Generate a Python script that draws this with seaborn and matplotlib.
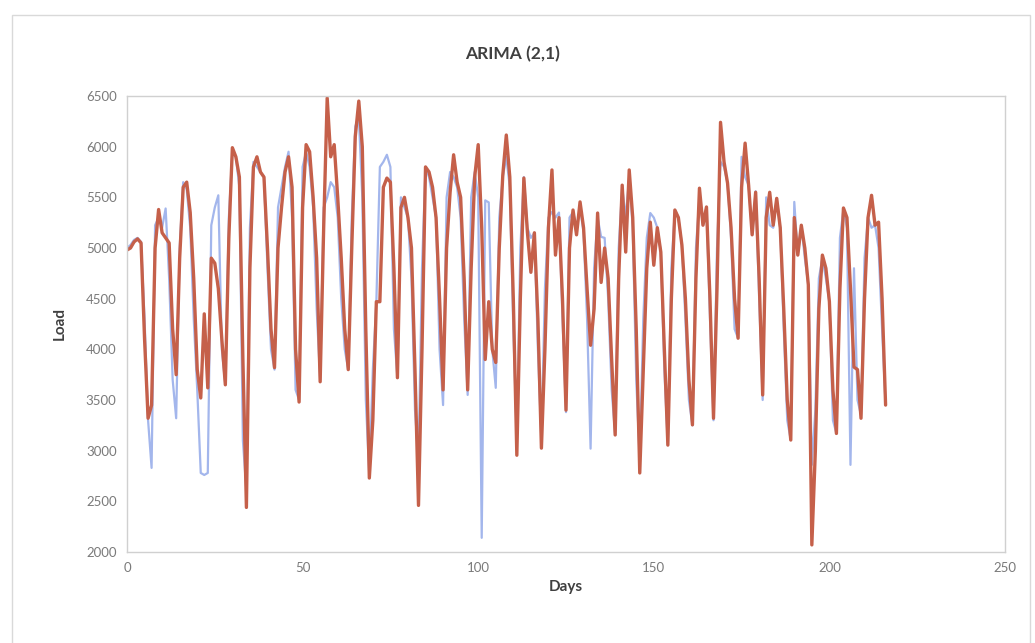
import numpy as np
import pandas as pd
import matplotlib
matplotlib.use("Agg")
import matplotlib.pyplot as plt
import seaborn as sns
from matplotlib.patches import Rectangle

# values (one per day, days 0..216)
actual = [
    5000, 5030, 5080, 5100, 5060, 4300, 3300,
    2830, 5225, 5300, 5200, 5390, 4700, 3700,
    3320, 5000, 5650, 5580, 5200, 4300, 3600,
    2780, 2760, 2780, 5225, 5400, 5520, 4000,
    3650, 5300, 5950, 5900, 5600, 3100, 2600,
    5200, 5850, 5800, 5750, 5700, 4800, 4000,
    3800, 5400, 5600, 5800, 5950, 5300, 3600,
    3500, 5800, 5950, 5800, 5400, 4400, 3700,
    5400, 5500, 5650, 5600, 5300, 4500, 4000,
    3800, 5300, 6200, 6300, 5500, 3500, 2750,
    3800, 4470, 5800, 5850, 5920, 5800, 4200,
    3720, 5500, 5400, 5300, 4700, 3400, 2900,
    4800, 5800, 5700, 5500, 5300, 4000, 3450,
    5500, 5750, 5700, 5600, 5300, 4300, 3550,
    5500, 5750, 5500, 2140, 5470, 5450, 4000,
    3620, 5300, 5700, 5900, 5600, 4200, 3100,
    5000, 5700, 5200, 5100, 5150, 4000, 3100,
    4600, 5300, 5355, 5300, 5350, 4300, 3380,
    5300, 5355, 5200, 5400, 5150, 4300, 3020,
    4800, 5300, 5110, 5100, 4500, 3600, 3155,
    5000, 5600, 5300, 5700, 5200, 3700, 2900,
    4300, 5100, 5345, 5300, 5200, 4960, 3800,
    3055, 4800, 5375, 5300, 5030, 4300, 3500,
    3250, 5000, 5500, 5225, 5405, 4300, 3300,
    5000, 5850, 5800, 5640, 5100, 4200, 4110,
    5900, 5700, 5620, 5130, 5560, 4500, 3500,
    5500, 5225, 5200, 5490, 5195, 4200, 3300,
    3105, 5455, 4930, 5225, 4900, 4635, 2860,
    3400, 4700, 4900, 4700, 4470, 3300, 3170,
    5100, 5380, 5200, 2860, 4800, 3500, 3350,
    4900, 5300, 5200, 5225, 5000, 4200, 3450,
]

forecast = [
    4980, 5000, 5060, 5090, 5050, 4100, 3320,
    3450, 5000, 5380, 5150, 5100, 5050, 4200,
    3750, 4900, 5600, 5650, 5350, 4700, 3800,
    3520, 4350, 3620, 4900, 4850, 4600, 4100,
    3650, 5100, 5990, 5900, 5700, 3900, 2440,
    4800, 5800, 5900, 5750, 5700, 5000, 4200,
    3820, 5000, 5400, 5750, 5900, 5600, 4000,
    3480, 5400, 6020, 5950, 5500, 4900, 3680,
    5200, 6480, 5900, 6020, 5500, 4900, 4200,
    3800, 5000, 6100, 6450, 6000, 4200, 2730,
    3300, 4470, 4470, 5600, 5690, 5650, 4800,
    3720, 5400, 5500, 5300, 5000, 3800, 2460,
    4000, 5800, 5750, 5600, 5300, 4500, 3600,
    5000, 5550, 5920, 5650, 5500, 4700, 3600,
    4800, 5700, 6020, 5200, 3900, 4470, 4000,
    3870, 5000, 5720, 6115, 5700, 4500, 2955,
    4500, 5690, 5160, 4760, 5150, 4300, 3025,
    4000, 5200, 5770, 4930, 5300, 4500, 3400,
    5000, 5375, 5130, 5455, 5200, 4600, 4040,
    4400, 5345, 4660, 5000, 4700, 3900, 3155,
    4700, 5620, 4960, 5770, 5300, 4200, 2780,
    3800, 4800, 5255, 4830, 5200, 4960, 4000,
    3055, 4500, 5375, 5300, 5030, 4500, 3700,
    3255, 4700, 5590, 5225, 5405, 4500, 3320,
    4600, 6240, 5850, 5640, 5200, 4500, 4110,
    5600, 6035, 5620, 5130, 5550, 4700, 3550,
    5300, 5550, 5225, 5490, 5200, 4400, 3500,
    3105, 5300, 4930, 5225, 5000, 4635, 2070,
    3000, 4400, 4930, 4800, 4470, 3600, 3170,
    4600, 5395, 5300, 4600, 3825, 3800, 3320,
    4500, 5300, 5520, 5225, 5255, 4500, 3450,
]

days = list(range(len(actual)))
x_ticks = [0, 50, 100, 150, 200, 250]
y_ticks = list(range(2000, 6501, 500))

df = pd.DataFrame({"Days": days, "Actual": actual, "Forecast": forecast})

sns.set_style("white")
plt.rcParams["font.family"] = ["Lato", "DejaVu Sans"]

fig = plt.figure(figsize=(10.35, 6.43), dpi=100)
ax = fig.add_axes([127 / 1035, 1 - 552 / 643, (1005 - 127) / 1035, (552 - 96) / 643])

sns.lineplot(data=df, x="Days", y="Actual", color="#a3b6ec", linewidth=1.6,
             solid_joinstyle="round", ax=ax)
sns.lineplot(data=df, x="Days", y="Forecast", color="#c5604a", linewidth=2.4,
             solid_joinstyle="round", ax=ax)

ax.set_xlim(0, 250)
ax.set_ylim(2000, 6500)
ax.set_xticks(x_ticks)
ax.set_yticks(y_ticks)
ax.tick_params(axis="both", labelsize=9.5, colors="#7a7a7a", length=4, color="#c8c8c8", width=0.8)
for s in ax.spines.values():
    s.set_color("#d0d0d0")
    s.set_linewidth(1.0)

ax.set_xlabel("Days", fontsize=11, fontweight="bold", color="#404040", labelpad=4)
ax.set_ylabel("Load", fontsize=11, fontweight="bold", color="#404040", labelpad=14)

fig.text(513 / 1035, 1 - 54 / 643, "ARIMA (2,1)", ha="center", va="center",
         fontsize=12.5, fontweight="bold", color="#404040")

# outer chart border
fig.patches.append(Rectangle((12 / 1035, -0.01), (1030 - 12) / 1035, 1 - 15 / 643 + 0.01,
                             transform=fig.transFigure, fill=False,
                             edgecolor="#d9d9d9", linewidth=1.0))

fig.savefig("out.png", dpi=100, facecolor="white")
